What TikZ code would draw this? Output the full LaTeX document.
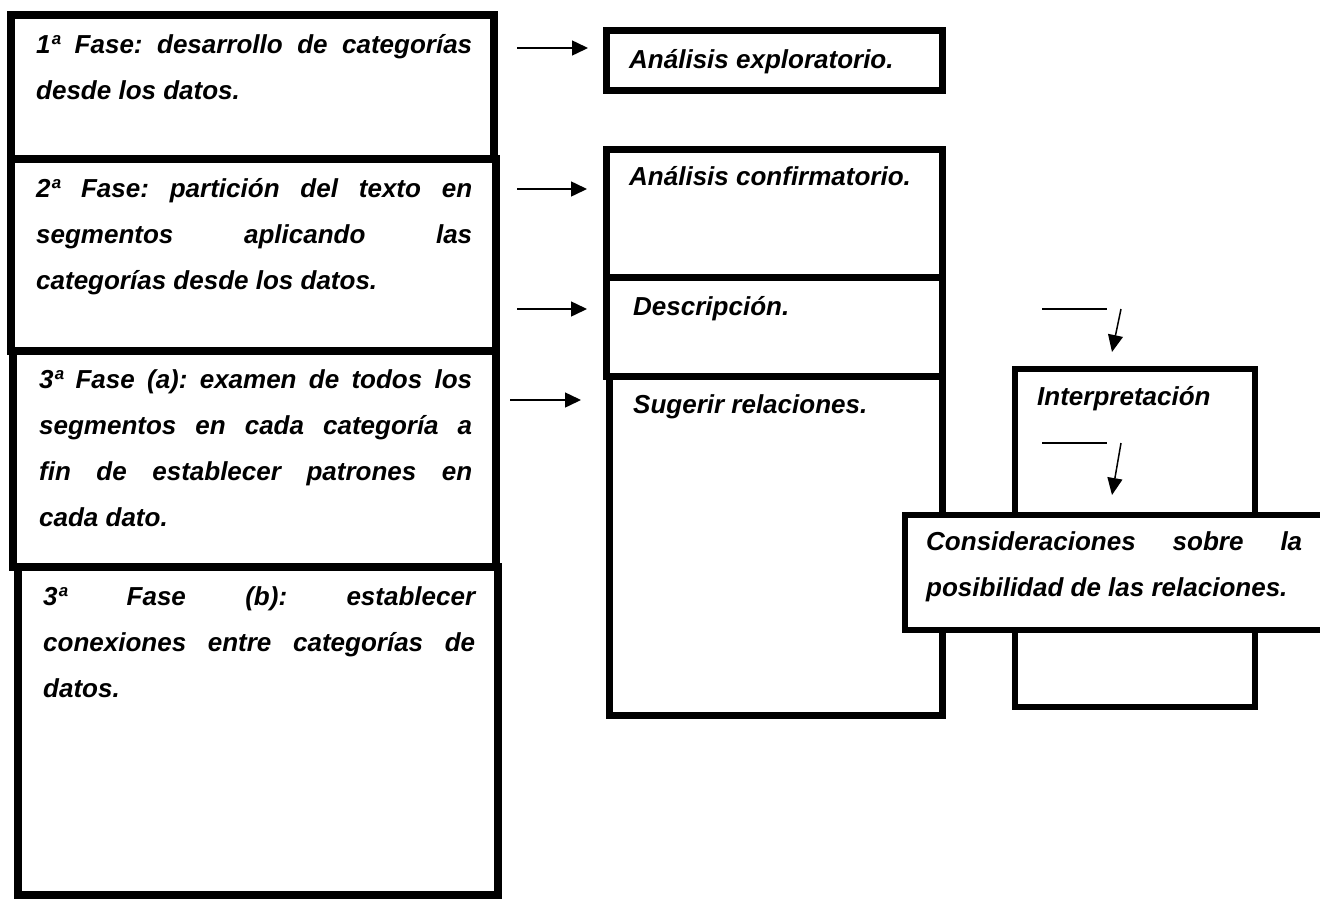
\documentclass[tikz,border=0pt]{standalone}
\usepackage{fontspec}
\setmainfont{Liberation Sans}
\usepackage{tikz}
\usetikzlibrary{arrows.meta}
\newcommand{\fasefont}{\fontsize{26}{46}\selectfont\bfseries\itshape\frenchspacing}
\tolerance=10000
\hbadness=10000
\hyphenpenalty=10000
\tikzset{
  caja/.style={draw, fill=white, line width=8pt, inner sep=0pt, outer sep=0pt, anchor=north west},
  texto/.style={anchor=base west, inner sep=0pt, font=\fasefont, align=justify},
  flecha/.style={line width=1.5pt, -{Triangle[length=16pt,width=15pt]}},
  bajada/.style={line width=1.5pt, -{Triangle[length=17pt,width=15pt]}},
}
\begin{document}
\begin{tikzpicture}[x=1pt, y=-1pt]
\useasboundingbox (0,0) rectangle (1320,900);
\fill[white] (0,0) rectangle (1320,900);
\clip (0,0) rectangle (1320,900);

\node[caja, minimum width=483pt, minimum height=144pt] (f1) at (11,15) {};
\node[caja, minimum width=485pt, minimum height=192pt] (f2) at (11,159) {};
\node[caja, minimum width=483pt, minimum height=216pt] (f3a) at (13,351) {};
\node[caja, minimum width=480pt, minimum height=328pt] (f3b) at (18,567) {};

\node[caja, line width=7pt, minimum width=336pt, minimum height=60pt] (explor) at (606.5,30.5) {};
\node[caja, line width=7pt, minimum width=336pt, minimum height=128pt] (confir) at (606.5,149.5) {};
\node[caja, line width=7pt, minimum width=336pt, minimum height=98.5pt] (descr) at (606.5,277.5) {};
\node[caja, line width=7pt, minimum width=333pt, minimum height=339pt] (suger) at (609.5,376) {};
\node[caja, line width=6pt, minimum width=240pt, minimum height=338pt] (interp) at (1015,369) {};
\node[caja, line width=6pt, minimum width=430pt, minimum height=115pt] (consid) at (905,515) {};

\node[texto, text width=436pt] (t1) at (36,53) {1ª Fase: desarrollo de categorías\linebreak desde los datos.};
\node[texto, text width=436pt] (t2) at (36,197) {2ª Fase: partición del texto en\linebreak segmentos aplicando las\linebreak categorías desde los datos.};
\node[texto, text width=433pt] (t3a) at (39,388) {3ª Fase (a): examen de todos los\linebreak segmentos en cada categoría a\linebreak fin de establecer patrones en\linebreak cada dato.};
\node[texto, text width=432pt] (t3b) at (43,605) {3ª Fase (b): establecer\linebreak conexiones entre categorías de\linebreak datos.};

\node[texto] (texplor) at (629,68) {Análisis exploratorio.};
\node[texto] (tconfir) at (629,185) {Análisis confirmatorio.};
\node[texto] (tdescr) at (633,315) {Descripción.};
\node[texto] (tsuger) at (633,413) {Sugerir relaciones.};
\node[texto] (tinterp) at (1037,405) {Interpretación};
\node[texto, text width=376pt] (tconsid) at (926,550) {Consideraciones sobre la\linebreak posibilidad de las relaciones.};

\foreach \n/\xa/\xb/\y in {1/517/588/48, 2/517/587/189, 3/517/587/309, 4/510/581/400} {
  \coordinate (s\n) at (\xa,\y);
  \coordinate (e\n) at (\xb,\y);
  \draw[flecha] (s\n) -- (e\n);
}

\foreach \n/\y/\z in {1/309/352, 2/443/495} {
  \coordinate (l\n) at (1042,\y);
  \coordinate (m\n) at (1107,\y);
  \coordinate (p\n) at (1121,\y);
  \coordinate (q\n) at (1112,\z);
  \draw[line width=1.5pt] (l\n) -- (m\n);
  \draw[bajada] (p\n) -- (q\n);
}
\end{tikzpicture}
\end{document}
